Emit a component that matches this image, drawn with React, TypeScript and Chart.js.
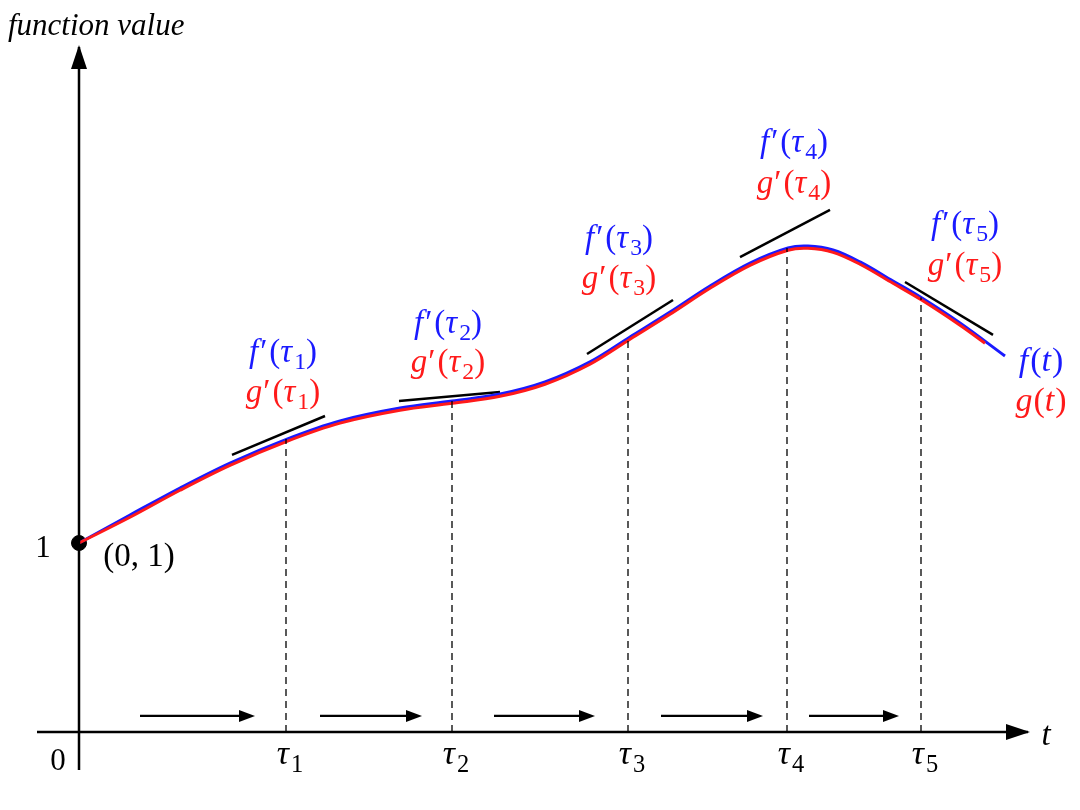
import React, { useEffect, useRef } from "react";
import { Chart, registerables } from "chart.js";

Chart.register(...registerables);

// ---- data (t on the horizontal axis, function value on the vertical) ----
const CURVE_T = [0, 0.51, 1.01, 1.51, 2.08, 2.61, 3.21, 3.73, 4.21, 4.66, 5.11, 5.51, 5.91, 6.31, 6.71, 7.09, 7.29, 7.54, 7.81, 8.14, 8.43, 8.81, 9.26];
const F_VALUES = [1.0, 1.148, 1.291, 1.423, 1.55, 1.646, 1.714, 1.751, 1.788, 1.852, 1.958, 2.09, 2.222, 2.36, 2.481, 2.561, 2.571, 2.55, 2.487, 2.386, 2.296, 2.164, 1.989];
const G_T = [0, 0.51, 1.01, 1.51, 2.08, 2.61, 3.21, 3.73, 4.21, 4.66, 5.11, 5.51, 5.91, 6.31, 6.71, 7.09, 7.29, 7.54, 7.81, 8.14, 8.43, 8.81, 9.06];
const G_VALUES = [1.0, 1.136, 1.279, 1.411, 1.538, 1.634, 1.702, 1.739, 1.776, 1.84, 1.946, 2.078, 2.21, 2.348, 2.469, 2.549, 2.559, 2.538, 2.475, 2.374, 2.284, 2.152, 2.057];

const TAU = [2.07, 3.73, 5.49, 7.08, 8.42];
const TAU_VALUE = [1.55, 1.751, 2.085, 2.561, 2.299];
const TAU_NAMES = ["1", "2", "3", "4", "5"];

const TANGENT_T0 = [1.53, 3.2, 5.08, 6.61, 8.26];
const TANGENT_T1 = [2.46, 4.21, 5.94, 7.51, 9.14];
const TANGENT_V0 = [1.466, 1.751, 2.0, 2.513, 2.381];
const TANGENT_V1 = [1.672, 1.799, 2.286, 2.762, 2.101];

const STEP_T0 = [0.61, 2.41, 4.15, 5.82, 7.3];
const STEP_T1 = [1.76, 3.43, 5.16, 6.84, 8.2];
const STEP_V = 0.085;

const X_AXIS_T = [-0.42, 9.49];
const Y_AXIS_V = [-0.201, 3.624];

// label anchors: centre t, baseline value
const DERIV_LABEL_T = [2.04, 3.69, 5.4, 7.15, 8.86];
const DERIV_F_V = [1.958, 2.111, 2.561, 3.069, 2.635];
const DERIV_G_V = [1.746, 1.905, 2.349, 2.852, 2.418];

const X_MIN = -0.79, X_MAX = 10.01, Y_MIN = -0.4127, Y_MAX = 3.873;

const BLUE = "#1a1aff";
const RED = "#ff1a1a";
const FONT = "'Liberation Serif', 'DejaVu Serif', serif";

type Part = { t: string; it?: boolean; sub?: boolean; gap?: number };

function drawRich(ctx: CanvasRenderingContext2D, parts: Part[], cx: number, base: number, color: string, size: number, align: "center" | "left" = "center") {
  const fontOf = (p: Part) => `${p.it ? "italic " : ""}${p.sub ? size * 0.72 : size}px ${FONT}`;
  let w = 0;
  for (const p of parts) {
    ctx.font = fontOf(p);
    w += ctx.measureText(p.t).width + (p.gap || 0);
  }
  let x = align === "center" ? cx - w / 2 : cx;
  ctx.fillStyle = color;
  ctx.textBaseline = "alphabetic";
  ctx.textAlign = "left";
  for (const p of parts) {
    ctx.font = fontOf(p);
    ctx.fillText(p.t, x, p.sub ? base + size * 0.22 : base);
    x += ctx.measureText(p.t).width + (p.gap || 0);
  }
}

function arrowHead(ctx: CanvasRenderingContext2D, x0: number, y0: number, x1: number, y1: number, len: number, half: number) {
  const a = Math.atan2(y1 - y0, x1 - x0);
  ctx.save();
  ctx.translate(x1, y1);
  ctx.rotate(a);
  ctx.beginPath();
  ctx.moveTo(0, 0);
  ctx.lineTo(-len, -half);
  ctx.lineTo(-len, half);
  ctx.closePath();
  ctx.fillStyle = "#000";
  ctx.fill();
  ctx.restore();
}

const overlay = {
  id: "overlay",
  afterDatasetsDraw(chart: any) {
    const ctx: CanvasRenderingContext2D = chart.ctx;
    const xs = chart.scales.x;
    const ys = chart.scales.y;
    const px = (t: number) => xs.getPixelForValue(t);
    const py = (v: number) => ys.getPixelForValue(v);
    ctx.save();
    // axis arrowheads
    arrowHead(ctx, px(X_AXIS_T[0]), py(0), px(X_AXIS_T[1]) + 2, py(0), 24, 8);
    arrowHead(ctx, px(0), py(Y_AXIS_V[0]), px(0), py(Y_AXIS_V[1]) - 2, 24, 8);
    // step arrowheads
    for (let i = 0; i < STEP_T0.length; i++) {
      arrowHead(ctx, px(STEP_T0[i]), py(STEP_V), px(STEP_T1[i]), py(STEP_V), 16, 6);
    }
    // texts
    drawRich(ctx, [{ t: "function value", it: true }], 8, 35, "#000", 31, "left");
    drawRich(ctx, [{ t: "t", it: true }], px(9.67), py(-0.07), "#000", 33);
    drawRich(ctx, [{ t: "0" }], px(-0.21), py(-0.2), "#000", 31);
    drawRich(ctx, [{ t: "1" }], px(-0.36), py(0.926), "#000", 31);
    drawRich(ctx, [{ t: "(0, 1)" }], px(0.6), py(0.878), "#000", 33);
    for (let i = 0; i < TAU.length; i++) {
      drawRich(ctx, [{ t: "τ", it: true, gap: 2 }, { t: TAU_NAMES[i], sub: true }], px(TAU[i]) + 4, py(-0.17), "#000", 34);
      drawRich(ctx, [{ t: "f", it: true, gap: 2 }, { t: "′", gap: 2 }, { t: "(" }, { t: "τ", it: true, gap: 2 }, { t: TAU_NAMES[i], sub: true }, { t: ")" }], px(DERIV_LABEL_T[i]), py(DERIV_F_V[i]), BLUE, 33);
      drawRich(ctx, [{ t: "g", it: true, gap: 1 }, { t: "′", gap: 2 }, { t: "(" }, { t: "τ", it: true, gap: 2 }, { t: TAU_NAMES[i], sub: true }, { t: ")" }], px(DERIV_LABEL_T[i]), py(DERIV_G_V[i]), RED, 33);
    }
    drawRich(ctx, [{ t: "f", it: true, gap: 2 }, { t: "(" }, { t: "t", it: true, gap: 1 }, { t: ")" }], px(9.62), py(1.91), BLUE, 34);
    drawRich(ctx, [{ t: "g", it: true, gap: 1 }, { t: "(" }, { t: "t", it: true, gap: 1 }, { t: ")" }], px(9.62), py(1.698), RED, 34);
    ctx.restore();
  },
};

function seg(t0: number, v0: number, t1: number, v1: number, color: string, width: number, dash: number[] = []) {
  return {
    type: "line" as const,
    data: [{ x: t0, y: v0 }, { x: t1, y: v1 }],
    borderColor: color,
    borderWidth: width,
    borderDash: dash,
    pointRadius: 0,
    tension: 0,
    fill: false,
    clip: false as any,
  };
}

export default function App() {
  const ref = useRef<HTMLCanvasElement>(null);
  useEffect(() => {
    document.body.style.margin = "0";
    const datasets: any[] = [];
    datasets.push(seg(X_AXIS_T[0], 0, X_AXIS_T[1], 0, "#000", 2.5));
    datasets.push(seg(0, Y_AXIS_V[0], 0, Y_AXIS_V[1], "#000", 2.5));
    for (let i = 0; i < TAU.length; i++) datasets.push(seg(TAU[i], 0, TAU[i], TAU_VALUE[i], "#000", 1.3, [7, 5]));
    for (let i = 0; i < STEP_T0.length; i++) datasets.push(seg(STEP_T0[i], STEP_V, STEP_T1[i] - 0.12, STEP_V, "#000", 2.2));
    datasets.push({
      type: "line",
      data: G_T.map((t, i) => ({ x: t, y: G_VALUES[i] })),
      borderColor: RED,
      borderWidth: 3,
      pointRadius: 0,
      tension: 0.35,
      fill: false,
      clip: false,
    });
    datasets.push({
      type: "line",
      data: CURVE_T.map((t, i) => ({ x: t, y: F_VALUES[i] })),
      borderColor: BLUE,
      borderWidth: 3,
      pointRadius: 0,
      tension: 0.35,
      fill: false,
      clip: false,
    });
    for (let i = 0; i < TAU.length; i++) datasets.push(seg(TANGENT_T0[i], TANGENT_V0[i], TANGENT_T1[i], TANGENT_V1[i], "#000", 2.5));
    datasets.push({
      type: "scatter",
      data: [{ x: 0, y: 1 }],
      pointRadius: 7.5,
      pointBackgroundColor: "#000",
      pointBorderColor: "#000",
      clip: false,
    });
    const chart = new Chart(ref.current!, {
      type: "line",
      data: { datasets },
      options: {
        animation: false,
        responsive: true,
        maintainAspectRatio: false,
        layout: { padding: 0, autoPadding: false },
        plugins: { legend: { display: false }, tooltip: { enabled: false } },
        events: [],
        scales: {
          x: { type: "linear", min: X_MIN, max: X_MAX, display: false },
          y: { type: "linear", min: Y_MIN, max: Y_MAX, display: false },
        },
      },
      plugins: [overlay],
    });
    return () => chart.destroy();
  }, []);
  return (
    <div style={{ position: "relative", width: 1080, height: 810, background: "#fff" }}>
      <canvas ref={ref} />
    </div>
  );
}
